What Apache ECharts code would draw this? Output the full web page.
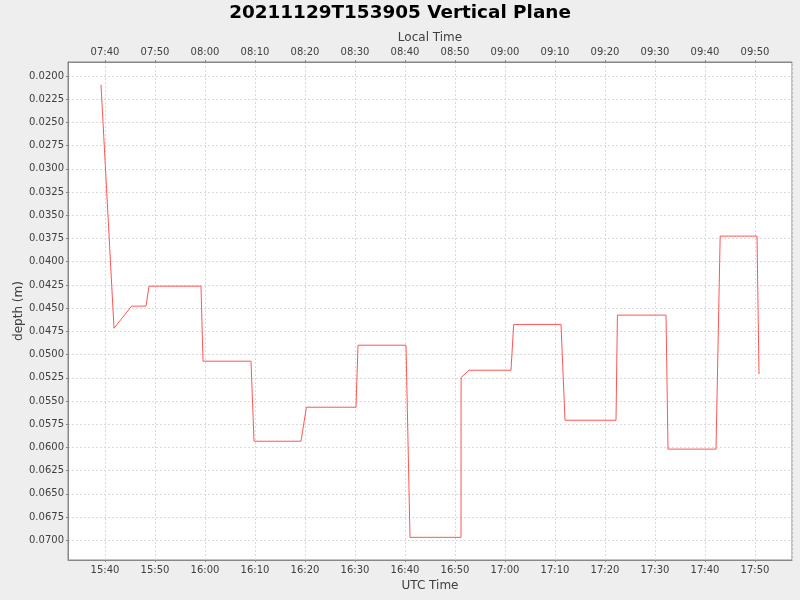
<!DOCTYPE html>
<html>
<head>
<meta charset="utf-8">
<title>20211129T153905 Vertical Plane</title>
<script src="https://cdn.jsdelivr.net/npm/echarts@6/dist/echarts.min.js"></script>
<style>
  html, body { margin: 0; padding: 0; background: #eeeeee; }
  #chart { width: 800px; height: 600px; }
</style>
</head>
<body>
<div id="chart"></div>
<script>
// UTC sample times and depth (m)
var utcTimes = ['15:39:12', '15:41:48', '15:45:20', '15:48:12', '15:48:48', '15:59:12',
    '15:59:36', '16:09:12', '16:09:48', '16:19:12', '16:20:17', '16:30:12', '16:30:36',
    '16:40:12', '16:41:00', '16:51:12', '16:51:13', '16:52:48', '17:01:12', '17:01:44',
    '17:11:12', '17:12:00', '17:22:12', '17:22:29', '17:32:12', '17:32:36', '17:42:12',
    '17:43:02', '17:50:24', '17:50:48'];
var depths = [0.02094, 0.04716, 0.04478, 0.04478, 0.04263, 0.04263,
    0.05071, 0.05071, 0.05933, 0.05933, 0.05567, 0.05567, 0.04899,
    0.04899, 0.06968, 0.06968, 0.05248, 0.05168, 0.05168, 0.04675,
    0.04675, 0.05707, 0.05707, 0.04575, 0.04575, 0.06018, 0.06018,
    0.03724, 0.03724, 0.05211];

var timeRange = ['15:32:36', '17:57:24'];
var depthRange = [0.01849, 0.07212];
var localOffsetHours = -8;

function toSec(s) {
    var p = s.split(':');
    return (+p[0]) * 3600 + (+p[1]) * 60 + (+p[2]);
}
function pad(n) {
    return (n < 10 ? '0' : '') + n;
}
function hhmm(sec) {
    var m = Math.round(sec / 60);
    var h = Math.floor(m / 60);
    h = ((h % 24) + 24) % 24;
    return pad(h) + ':' + pad(m % 60);
}

var data = utcTimes.map(function (t, i) { return [toSec(t), depths[i]]; });

var font = 'DejaVu Sans';
var labelColor = '#404040';
var frameColor = '#888888';
var nameStyle = { fontFamily: font, fontSize: 12, color: labelColor };

var dom = document.getElementById('chart');
var myChart = echarts.init(dom);

var option = {
    backgroundColor: '#eeeeee',
    animation: false,
    title: {
        text: '20211129T153905 Vertical Plane',
        left: 'center',
        top: -1,
        textStyle: { fontFamily: font, fontSize: 18.4, fontWeight: 'bold', color: '#000' }
    },
    grid: {
        left: 68,
        right: 8,
        top: 62,
        bottom: 40,
        show: true,
        backgroundColor: '#ffffff',
        borderColor: frameColor,
        borderWidth: 1,
        outerBoundsMode: 'none'
    },
    xAxis: [
        {
            type: 'value',
            position: 'bottom',
            min: toSec(timeRange[0]),
            max: toSec(timeRange[1]),
            minInterval: 600,
            maxInterval: 600,
            name: 'UTC Time',
            nameLocation: 'middle',
            nameGap: 20,
            nameTextStyle: nameStyle,
            axisLine: { show: true, lineStyle: { color: frameColor } },
            axisTick: { show: true, length: 2, lineStyle: { color: frameColor } },
            axisLabel: {
                fontFamily: font, fontSize: 10, color: labelColor, margin: 5,
                showMinLabel: false, showMaxLabel: false,
                formatter: function (v) { return hhmm(v); }
            },
            splitLine: { show: true, lineStyle: { color: '#dadada', type: [2, 2] } }
        },
        {
            type: 'value',
            position: 'top',
            min: toSec(timeRange[0]),
            max: toSec(timeRange[1]),
            minInterval: 600,
            maxInterval: 600,
            axisLine: { show: true, lineStyle: { color: frameColor } },
            axisTick: { show: true, length: 2, lineStyle: { color: frameColor } },
            axisLabel: {
                fontFamily: font, fontSize: 10, color: labelColor, margin: 5,
                showMinLabel: false, showMaxLabel: false,
                formatter: function (v) { return hhmm(v + localOffsetHours * 3600); }
            },
            splitLine: { show: false }
        },
        {
            // carries only the "Local Time" title
            type: 'value',
            position: 'top',
            min: toSec(timeRange[0]),
            max: toSec(timeRange[1]),
            name: 'Local Time',
            nameLocation: 'middle',
            nameGap: 18,
            nameTextStyle: nameStyle,
            axisLine: { show: false },
            axisTick: { show: false },
            axisLabel: { show: false },
            splitLine: { show: false }
        }
    ],
    yAxis: [
        {
            type: 'value',
            inverse: true,
            min: depthRange[0],
            max: depthRange[1],
            minInterval: 0.0025,
            maxInterval: 0.0025,
            axisLine: { show: true, lineStyle: { color: frameColor } },
            axisTick: { show: true, length: 2, lineStyle: { color: frameColor } },
            axisLabel: {
                fontFamily: font, fontSize: 10, color: labelColor, margin: 4,
                showMinLabel: false, showMaxLabel: false,
                formatter: function (v) { return v.toFixed(4); }
            },
            splitLine: { show: true, lineStyle: { color: '#dadada', type: [2, 2] } }
        },
        {
            // carries only the "depth (m)" title
            type: 'value',
            position: 'left',
            inverse: true,
            min: depthRange[0],
            max: depthRange[1],
            name: 'depth (m)',
            nameLocation: 'middle',
            nameGap: 43,
            nameTextStyle: nameStyle,
            axisLine: { show: false },
            axisTick: { show: false },
            axisLabel: { show: false },
            splitLine: { show: false }
        }
    ],
    series: [
        {
            name: 'depth',
            type: 'line',
            xAxisIndex: 0,
            yAxisIndex: 0,
            showSymbol: false,
            symbol: 'none',
            lineStyle: { color: '#ff5555', width: 1 },
            itemStyle: { color: '#ff5555' },
            data: data
        }
    ]
};

if (option && typeof option === 'object') {
    myChart.setOption(option);
    window.addEventListener('resize', function () {
        myChart.resize();
    });
}
</script>
</body>
</html>
